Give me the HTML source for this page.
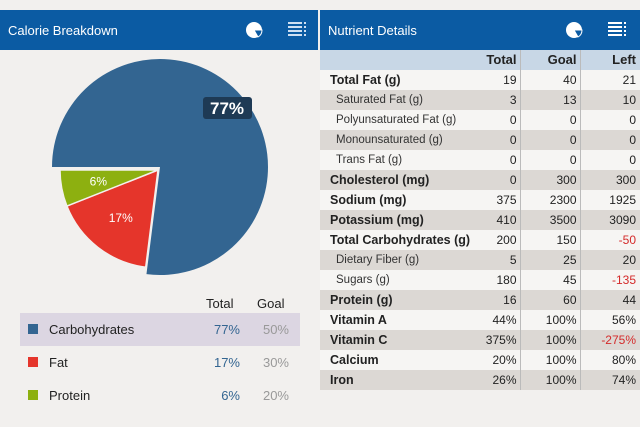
<!DOCTYPE html>
<html><head><meta charset="utf-8"><style>
body{margin:0;width:640px;height:427px;background:#f2f0ee;font-family:"Liberation Sans",sans-serif;position:relative;overflow:hidden}
.abs{position:absolute}
.bar{top:10px;height:40px;background:#0b5ba3;color:#fff;font-size:13px}
.ttl{top:13px;left:8px}
table{border-collapse:collapse;position:absolute;left:320px;top:50px;width:320px;font-size:12px;color:#222}
td{height:20px;padding:0;text-align:right;box-sizing:border-box;line-height:20px}
td.c1{width:200px;border-right:1px solid #bbb}
td.c2{width:60px;padding-right:3px;border-right:1px solid #bbb}
td.c3{padding-right:4px}
.cell{display:flex;justify-content:space-between;align-items:center;height:20px;padding-right:3px}
tr.g td{background:#dcd8d4}
tr.w td{background:#f6f5f3}
tr.h td{background:#c8d7e6;font-weight:bold;font-size:13px}
.neg{color:#d42a2a}
.lg{font-size:13px;color:#222}
</style></head><body>
<div class="abs bar" style="left:0;width:318px">
 <span class="abs ttl">Calorie Breakdown</span>
 <svg class="abs" style="left:245px;top:11px" width="18" height="18"><circle cx="9" cy="9" r="8" fill="#fff"/><path d="M9 9 L17 9 A8 8 0 0 1 13 16 Z" fill="#0b5ba3" stroke="#fff"/></svg>
 <svg class="abs" style="left:288px;top:10px" width="20" height="20"><g fill="#cfe0f2"><rect x="0" y="2" width="14" height="2"/><rect x="0" y="6" width="14" height="2"/><rect x="0" y="10" width="14" height="2"/><rect x="0" y="14" width="14" height="2"/><rect x="16" y="2" width="2" height="2"/><rect x="16" y="6" width="2" height="2"/><rect x="16" y="10" width="2" height="2"/><rect x="16" y="14" width="2" height="2"/></g></svg>
</div>
<div class="abs bar" style="left:320px;width:320px">
 <span class="abs ttl">Nutrient Details</span>
 <svg class="abs" style="left:245px;top:11px" width="18" height="18"><circle cx="9" cy="9" r="8" fill="#fff"/><path d="M9 9 L17 9 A8 8 0 0 1 13 16 Z" fill="#0b5ba3" stroke="#fff"/></svg>
 <svg class="abs" style="left:288px;top:10px" width="20" height="20"><g fill="#fff"><rect x="0" y="2" width="14" height="2"/><rect x="0" y="6" width="14" height="2"/><rect x="0" y="10" width="14" height="2"/><rect x="0" y="14" width="14" height="2"/><rect x="16" y="2" width="2" height="2"/><rect x="16" y="6" width="2" height="2"/><rect x="16" y="10" width="2" height="2"/><rect x="16" y="14" width="2" height="2"/></g></svg>
</div>
<svg class="abs" style="left:0;top:50px" width="318" height="250" id="pie"></svg>
<script>
const cats=["Carbohydrates","Fat","Protein"];
const vals=[77,17,6];
const cols=["#336591","#e5352b","#8db010"];
const svg=document.getElementById('pie');
const NS="http://www.w3.org/2000/svg";
const tot=vals.reduce((a,b)=>a+b,0);
let a0=270;
function pt(cx,cy,r,deg){const t=deg*Math.PI/180;return [cx+r*Math.sin(t),cy-r*Math.cos(t)];}
vals.forEach((v,i)=>{
 const sweep=v/tot*360, a1=a0+sweep;
 const big=i===0, cx=big?160:158, cy=big?117:120, r=big?108:98;
 const p0=pt(cx,cy,r,a0),p1=pt(cx,cy,r,a1);
 const p=document.createElementNS(NS,'path');
 p.setAttribute('d',`M${cx} ${cy} L${p0[0]} ${p0[1]} A${r} ${r} 0 ${sweep>180?1:0} 1 ${p1[0]} ${p1[1]} Z`);
 p.setAttribute('fill',cols[i]);p.setAttribute('stroke','#f2f0ee');p.setAttribute('stroke-width',big?0:1.5);
 
 
 svg.appendChild(p);
 const mid=(a0+a1)/2;
 if(big){
  const g=document.createElementNS(NS,'g');
  
  
  g.innerHTML=`<rect x="203" y="47" width="49" height="22" rx="3" fill="#1e3a55"/><text x="227" y="64" fill="#fff" font-size="17" font-weight="bold" text-anchor="middle">${v}%</text>`;
  svg.appendChild(g);
 } else {
  const lp=pt(cx,cy,r*0.62,mid);
  const t=document.createElementNS(NS,'text');
  t.setAttribute('x',lp[0]);t.setAttribute('y',lp[1]+4);t.setAttribute('fill','#fff');
  t.setAttribute('font-size','12');t.setAttribute('text-anchor','middle');t.textContent=v+'%';
  
  
  svg.appendChild(t);
 }
 a0=a1;
});
</script>
<div class="abs lg" style="left:206px;top:296px">Total</div>
<div class="abs lg" style="left:257px;top:296px">Goal</div>
<div class="abs" style="left:20px;top:313px;width:280px;height:33px;background:#dcd6e2"></div>
<div><div class="abs" style="left:28px;top:324px;width:10px;height:10px;background:#336591"></div><div class="abs lg" style="left:49px;top:322px">Carbohydrates</div><div class="abs lg" style="left:200px;width:40px;text-align:right;top:322px;color:#336591">77%</div><div class="abs lg" style="left:249px;width:40px;text-align:right;top:322px;color:#999">50%</div></div>
<div><div class="abs" style="left:28px;top:357px;width:10px;height:10px;background:#e5352b"></div><div class="abs lg" style="left:49px;top:355px">Fat</div><div class="abs lg" style="left:200px;width:40px;text-align:right;top:355px;color:#336591">17%</div><div class="abs lg" style="left:249px;width:40px;text-align:right;top:355px;color:#999">30%</div></div>
<div><div class="abs" style="left:28px;top:390px;width:10px;height:10px;background:#8db010"></div><div class="abs lg" style="left:49px;top:388px">Protein</div><div class="abs lg" style="left:200px;width:40px;text-align:right;top:388px;color:#336591">6%</div><div class="abs lg" style="left:249px;width:40px;text-align:right;top:388px;color:#999">20%</div></div>
<table>
<tr class="h"><td class="c1" style="padding-right:3px">Total</td><td class="c2">Goal</td><td class="c3">Left</td></tr>
</table>
<script>
const rows=[
["Total Fat (g)","19","40","21",0],
["Saturated Fat (g)","3","13","10",1],["Polyunsaturated Fat (g)","0","0","0",1],["Monounsaturated (g)","0","0","0",1],["Trans Fat (g)","0","0","0",1],
["Cholesterol (mg)","0","300","300",0],["Sodium (mg)","375","2300","1925",0],["Potassium (mg)","410","3500","3090",0],
["Total Carbohydrates (g)","200","150","-50",0],["Dietary Fiber (g)","5","25","20",1],["Sugars (g)","180","45","-135",1],
["Protein (g)","16","60","44",0],["Vitamin A","44%","100%","56%",0],["Vitamin C","375%","100%","-275%",0],["Calcium","20%","100%","80%",0],["Iron","26%","100%","74%",0]];
const tb=document.querySelector('table');
rows.forEach((r,i)=>{
 const tr=document.createElement('tr');
 tr.className=i%2===1?'g':'w';
 
 
 const neg=r[3].startsWith('-')?' neg':'';
 tr.innerHTML=`<td class="c1"><div class="cell"><span style="padding-left:${r[4]?16:10}px;${r[4]?'font-size:11.5px;color:#333':'font-weight:bold;font-size:12.5px'}">${r[0]}</span><span>${r[1]}</span></div></td><td class="c2">${r[2]}</td><td class="c3${neg}">${r[3]}</td>`;
 tb.appendChild(tr);
});
</script>
</body></html>
